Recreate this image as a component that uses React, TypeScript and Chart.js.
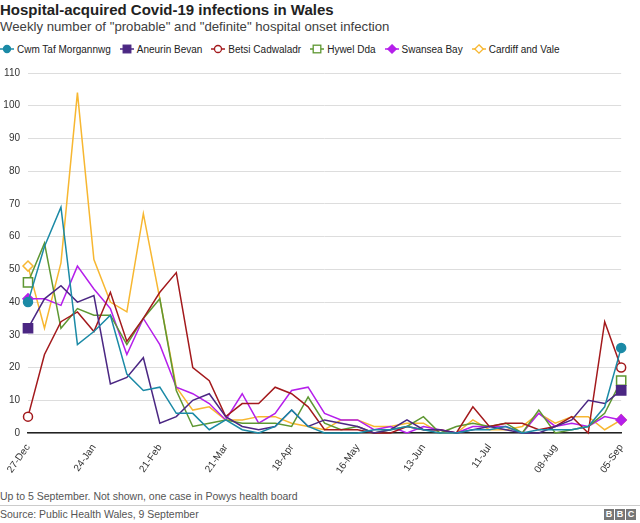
import React, { useEffect, useRef } from "react";
import { Chart, registerables } from "chart.js";

Chart.register(...registerables);

const weeks = [
  "27-Dec", "03-Jan", "10-Jan", "17-Jan", "24-Jan", "31-Jan", "07-Feb", "14-Feb", "21-Feb",
  "28-Feb", "07-Mar", "14-Mar", "21-Mar", "28-Mar", "04-Apr", "11-Apr", "18-Apr", "25-Apr",
  "02-May", "09-May", "16-May", "23-May", "30-May", "06-Jun", "13-Jun", "20-Jun", "27-Jun",
  "04-Jul", "11-Jul", "18-Jul", "25-Jul", "01-Aug", "08-Aug", "15-Aug", "22-Aug", "29-Aug", "05-Sep",
];

const cwmTaf = [40, 57, 69, 27, 31, 36, 18, 13, 14, 6, 6, 1, 4, 1, 0, 2, 7, 2, 0, 0, 0, 1, 1, 2, 1, 0, 0, 1, 1, 2, 0, 1, 1, 1, 2, 8, 26];
const aneurin = [32, 41, 45, 40, 42, 15, 17, 23, 3, 5, 10, 12, 5, 2, 1, 2, 7, 2, 4, 3, 2, 0, 1, 4, 1, 1, 0, 1, 2, 1, 0, 0, 2, 4, 10, 9, 13];
const betsi = [5, 24, 34, 37, 31, 43, 28, 35, 43, 49, 20, 16, 5, 9, 9, 14, 12, 8, 1, 1, 1, 0, 0, 2, 1, 1, 0, 8, 2, 3, 3, 1, 2, 5, 0, 34, 20];
const hywel = [46, 58, 32, 38, 36, 36, 27, 35, 41, 13, 2, 3, 4, 3, 3, 3, 2, 11, 3, 1, 2, 0, 1, 2, 5, 0, 2, 3, 2, 3, 0, 7, 0, 1, 2, 6, 16];
const swansea = [41, 41, 39, 51, 44, 38, 24, 35, 27, 14, 12, 9, 4, 12, 3, 6, 13, 14, 6, 4, 4, 1, 2, 0, 2, 1, 0, 2, 2, 2, 0, 6, 2, 3, 2, 5, 4];
const cardiff = [51, 32, 52, 104, 53, 40, 37, 67, 41, 14, 7, 8, 4, 4, 5, 5, 3, 2, 1, 4, 4, 2, 2, 3, 3, 0, 0, 4, 1, 1, 2, 6, 3, 5, 5, 1, 4];

const yTicks = [0, 10, 20, 30, 40, 50, 60, 70, 80, 90, 100, 110];

const FONT = "'Liberation Sans', Arial, Helvetica, sans-serif";

type S = { name: string; data: number[]; color: string; style: string; filled: boolean; r: number };

const seriesList: S[] = [
  { name: "Cwm Taf Morgannwg", data: cwmTaf, color: "#1b8aa6", style: "circle", filled: true, r: 4.5 },
  { name: "Aneurin Bevan", data: aneurin, color: "#4b2783", style: "rect", filled: true, r: 6.5 },
  { name: "Betsi Cadwaladr", data: betsi, color: "#a3191c", style: "circle", filled: false, r: 4.5 },
  { name: "Hywel Dda", data: hywel, color: "#5e9732", style: "rect", filled: false, r: 6.5 },
  { name: "Swansea Bay", data: swansea, color: "#b51feb", style: "rectRot", filled: true, r: 5 },
  { name: "Cardiff and Vale", data: cardiff, color: "#f7b731", style: "rectRot", filled: false, r: 5 },
];

function LegendIcon({ s }: { s: S }) {
  const fill = s.filled ? s.color : "#fff";
  let marker: React.ReactNode;
  if (s.style === "circle") marker = <circle cx={7} cy={6} r={3.5} fill={fill} stroke={s.color} strokeWidth={1.3} />;
  else if (s.style === "rect") marker = <rect x={3.2} y={2.2} width={7.6} height={7.6} fill={fill} stroke={s.color} strokeWidth={1.3} />;
  else marker = <polygon points="7,1.8 11.2,6 7,10.2 2.8,6" fill={fill} stroke={s.color} strokeWidth={1.3} />;
  return (
    <svg width={14} height={12} style={{ display: "block", marginRight: 3 }}>
      <line x1={0} y1={6} x2={14} y2={6} stroke={s.color} strokeWidth={1.5} />
      {marker}
    </svg>
  );
}

export default function App() {
  const ref = useRef<HTMLCanvasElement | null>(null);

  useEffect(() => {
    if (!ref.current) return;
    const last = weeks.length - 1;
    const chart = new Chart(ref.current, {
      type: "line",
      data: {
        labels: weeks,
        datasets: seriesList.map((s) => ({
          label: s.name,
          data: s.data,
          borderColor: s.color,
          backgroundColor: s.filled ? s.color : "#ffffff",
          borderWidth: 1.5,
          pointStyle: s.style as any,
          pointBorderWidth: 1.5,
          pointRadius: (c: any) => (c.dataIndex === 0 || c.dataIndex === last ? s.r : 0),
          pointHoverRadius: 0,
          tension: 0,
          clip: false as any,
        })),
      },
      options: {
        animation: false,
        responsive: false,
        maintainAspectRatio: false,
        layout: { padding: { top: 15, right: 10, left: 0, bottom: 0 } },
        plugins: { legend: { display: false }, tooltip: { enabled: false } },
        scales: {
          x: {
            grid: { display: false, drawTicks: false },
            border: { display: true, color: "#222", width: 1.5 },
            ticks: {
              autoSkip: false,
              minRotation: 55,
              maxRotation: 55,
              padding: 9,
              color: "#333",
              font: { family: FONT, size: 10 },
              callback: (_v: any, i: number) => (i % 4 === 0 ? weeks[i] : ""),
            },
            afterFit: (sc: any) => {
              sc.height = 55;
            },
          },
          y: {
            min: 0,
            max: 110,
            afterBuildTicks: (sc: any) => {
              sc.ticks = yTicks.map((v) => ({ value: v }));
            },
            grid: { color: "#dddddd", lineWidth: 1, drawTicks: false },
            border: { display: false },
            ticks: {
              padding: 8,
              color: "#333",
              font: { family: FONT, size: 10 },
            },
            afterFit: (sc: any) => {
              sc.width = 28;
            },
          },
        },
      },
    });
    return () => chart.destroy();
  }, []);

  return (
    <div style={{ position: "absolute", left: 0, top: 0, width: 640, height: 523, background: "#fff", fontFamily: FONT, overflow: "hidden" }}>
      <div style={{ position: "absolute", left: 0, top: 1, fontSize: 15, fontWeight: "bold", color: "#222", whiteSpace: "nowrap" }}>
        Hospital-acquired Covid-19 infections in Wales
      </div>
      <div style={{ position: "absolute", left: 0, top: 19, fontSize: 13.2, color: "#404040", whiteSpace: "nowrap" }}>
        Weekly number of "probable" and "definite" hospital onset infection
      </div>
      <div style={{ position: "absolute", left: 0, top: 43, display: "flex", alignItems: "center", fontSize: 10, color: "#222", whiteSpace: "nowrap" }}>
        {seriesList.map((s) => (
          <div key={s.name} style={{ display: "flex", alignItems: "center", marginRight: 9 }}>
            <LegendIcon s={s} />
            <span>{s.name}</span>
          </div>
        ))}
      </div>
      <canvas ref={ref} width={640} height={430} style={{ position: "absolute", left: 0, top: 58, width: 640, height: 430 }} />
      <div style={{ position: "absolute", left: 0, top: 490, fontSize: 10.5, color: "#555", whiteSpace: "nowrap" }}>
        Up to 5 September. Not shown, one case in Powys health board
      </div>
      <div style={{ position: "absolute", left: 0, top: 505, width: 640, height: 1, background: "#cccccc" }} />
      <div style={{ position: "absolute", left: 0, top: 508, fontSize: 10.5, color: "#555", whiteSpace: "nowrap" }}>
        Source: Public Health Wales, 9 September
      </div>
      <div style={{ position: "absolute", right: 4, top: 509, display: "flex", gap: 1 }}>
        {["B", "B", "C"].map((l, i) => (
          <span key={i} style={{ width: 10, height: 11, background: "#777", color: "#fff", fontSize: 9, fontWeight: "bold", lineHeight: "11px", textAlign: "center", display: "block" }}>
            {l}
          </span>
        ))}
      </div>
    </div>
  );
}
